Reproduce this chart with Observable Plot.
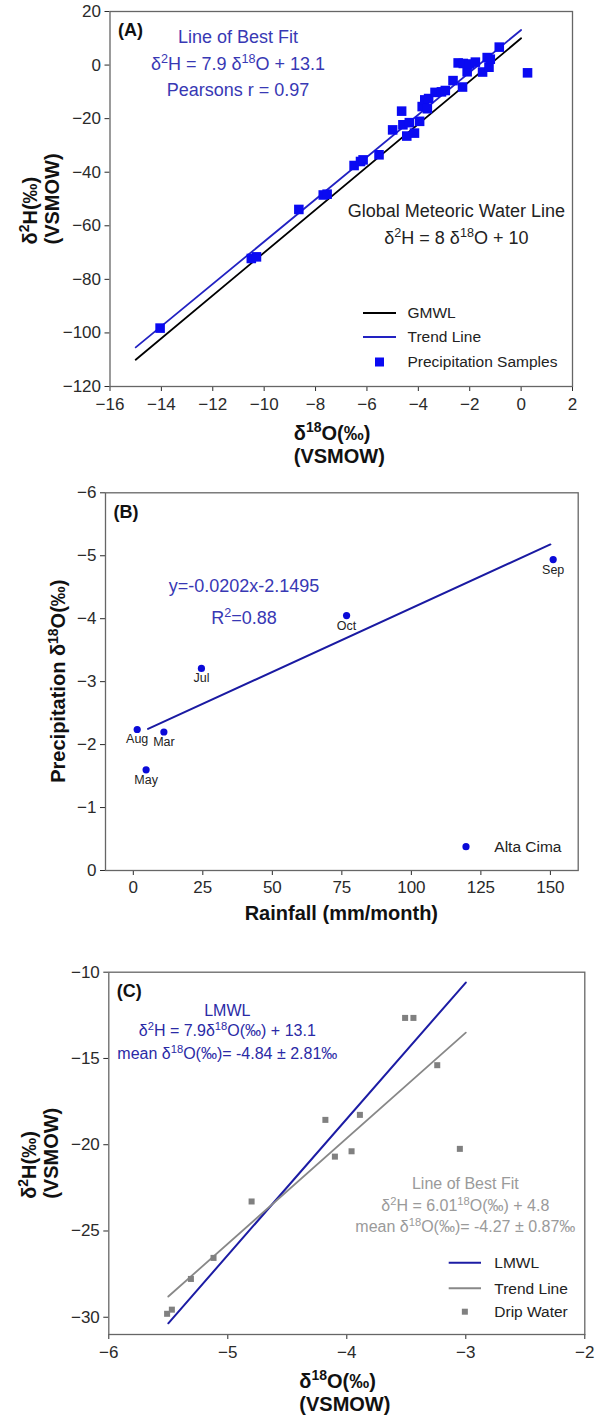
<!DOCTYPE html>
<html>
<head>
<meta charset="utf-8">
<script src="https://cdn.jsdelivr.net/npm/d3@7"></script>
<script src="https://cdn.jsdelivr.net/npm/@observablehq/plot@0.6"></script>
<style>
  html, body { margin: 0; padding: 0; background: #fff; }
  #wrap { position: relative; width: 606px; height: 1418px; background: #fff; }
  .panel { position: absolute; left: 0; }
</style>
</head>
<body>
<div id="wrap">
  <div class="panel" id="pA" style="top:0px"></div>
  <div class="panel" id="pB" style="top:470px"></div>
  <div class="panel" id="pC" style="top:940px"></div>
</div>
<script>
// ---------------- DATA ----------------
// Panel A: precipitation samples
const precipD18O = [-14.05, -10.5, -10.3, -8.65, -7.7, -7.55, -6.5, -6.25, -6.15, -5.53, -5.0, -4.65, -4.6, -4.45, -4.35, -4.15, -3.95, -3.85, -3.75, -3.65, -3.6, -3.35, -3.1, -2.95, -2.65, -2.45, -2.25, -2.28, -2.1, -2.0, -1.78, -1.5, -1.32, -1.25, -1.2, -0.85, 0.25];
const precipD2H  = [-98.2, -72.2, -71.6, -53.9, -48.5, -48.2, -37.5, -36.0, -35.4, -33.5, -24.2, -17.2, -22.3, -26.5, -21.5, -25.4, -21.0, -15.5, -13.0, -16.3, -12.5, -10.2, -10.0, -9.5, -5.8, 0.8, 0.6, -8.2, -2.5, 0.4, 1.1, -2.6, 2.8, -0.8, 2.2, 6.7, -2.9];
const gmwlX = [-15, 0];
const gmwlY = [-110, 10];
const trendAX = [-15, 0];
const trendAY = [-105.4, 13.1];
const ticksAX = [-16, -14, -12, -10, -8, -6, -4, -2, 0, 2];
const ticksAY = [-120, -100, -80, -60, -40, -20, 0, 20];

// Panel B: monthly rainfall vs precipitation d18O (Alta Cima)
const months    = ["Aug", "Mar", "May", "Jul", "Oct", "Sep"];
const rainfall  = [1.4, 11.0, 4.6, 24.5, 76.7, 151.0];
const monthD18O = [-2.24, -2.20, -1.60, -3.21, -4.05, -4.94];
const trendBX = [5.3, 150];
const trendBY = [-2.25, -5.18];
const ticksBX = [0, 25, 50, 75, 100, 125, 150];
const ticksBY = [0, -1, -2, -3, -4, -5, -6];

// Panel C: drip water
const dripD18O = [-5.51, -5.47, -5.31, -5.12, -4.80, -4.18, -4.10, -3.96, -3.89, -3.51, -3.44, -3.24, -3.05];
const dripD2H  = [-29.8, -29.56, -27.78, -26.56, -23.29, -18.56, -20.69, -20.38, -18.27, -12.65, -12.65, -15.39, -20.24];
const lmwlX = [-5.5, -3.0];
const lmwlY = [-30.35, -10.6];
const trendCX = [-5.5, -3.0];
const trendCY = [-28.8, -13.5];
const ticksCX = [-6, -5, -4, -3, -2];
const ticksCY = [-30, -25, -20, -15, -10];

// ---------------- HELPERS ----------------
const FONT = '"Liberation Sans", Arial, Helvetica, sans-serif';
const intFmt = d3.format("d");
const zip = (xs, ys, extra) => xs.map((x, i) => Object.assign({x, y: ys[i]}, extra ? extra(i) : {}));

function addRich(sel, str, size) {
  const parts = str.split(/(\^\{[^}]*\})/);
  let up = false;
  for (const p of parts) {
    if (!p) continue;
    const m = p.match(/^\^\{([^}]*)\}$/);
    if (m) {
      sel.append("tspan").attr("dy", -0.38 * size).attr("font-size", size * 0.7).text(m[1]);
      up = true;
    } else {
      const t = sel.append("tspan").text(p);
      if (up) { t.attr("dy", 0.38 * size); up = false; }
    }
  }
}

// items: {text, size, weight, fill, anchor, rotate, pos:(scales,dims)=>[x, yCenter]}
function richMark(items) {
  return (index, scales, values, dims) => {
    const g = d3.create("svg:g");
    for (const it of items) {
      const [px, pcy] = it.pos(scales, dims);
      let x = px, y = pcy + 0.35 * it.size;
      if (it.rotate) { x = px + 0.35 * it.size; y = pcy; }
      const t = g.append("text")
        .attr("x", x).attr("y", y)
        .attr("text-anchor", it.anchor || "middle")
        .attr("font-family", FONT)
        .attr("font-size", it.size)
        .attr("font-weight", it.weight || "normal")
        .attr("fill", it.fill || "#222")
        .style("white-space", "pre");
      if (it.rotate) t.attr("transform", `rotate(-90 ${x} ${y})`);
      addRich(t, it.text, it.size);
    }
    return g.node();
  };
}

const dataPos = (x, y) => (s) => [s.x(x), s.y(y)];
const frameBox = (d) => ({
  l: d.marginLeft, r: d.width - d.marginRight,
  t: d.marginTop, b: d.height - d.marginBottom
});
const panelTag = (label) => ({text: label, size: 18, weight: "bold", fill: "#111",
  pos: (s, d) => { const f = frameBox(d); return [f.l + 21, f.t + 19]; }});
const xLabels2 = (l1, l2) => [
  {text: l1, size: 20, weight: "bold", anchor: "start", fill: "#111",
   pos: (s, d) => { const f = frameBox(d); return [(f.l + f.r) / 2 - 47, f.b + 47]; }},
  {text: l2, size: 20, weight: "bold", anchor: "start", fill: "#111",
   pos: (s, d) => { const f = frameBox(d); return [(f.l + f.r) / 2 - 47, f.b + 70]; }}
];
const yLabels2 = (l1, l2) => [
  {text: l1, size: 20, weight: "bold", anchor: "start", rotate: true, fill: "#111",
   pos: (s, d) => { const f = frameBox(d); return [f.l - 79.5, (f.t + f.b) / 2 + 46]; }},
  {text: l2, size: 20, weight: "bold", anchor: "start", rotate: true, fill: "#111",
   pos: (s, d) => { const f = frameBox(d); return [f.l - 57.5, (f.t + f.b) / 2 + 46]; }}
];

// legend: rows [{type:"line"|"square"|"dot", color, label}], geometry relative to frame bottom-right
function legendMark(rows, geo) {
  return (index, scales, values, dims) => {
    const f = frameBox(dims);
    const g = d3.create("svg:g");
    rows.forEach((row, i) => {
      const cy = f.b - geo.rowsFromBottom[i];
      const x0 = f.r - geo.lineFrom, x1 = f.r - geo.lineTo, xm = (x0 + x1) / 2;
      if (row.type === "line") {
        g.append("line").attr("x1", x0).attr("x2", x1).attr("y1", cy).attr("y2", cy)
          .attr("stroke", row.color).attr("stroke-width", row.width || 2);
      } else if (row.type === "square") {
        g.append("rect").attr("x", xm - row.side / 2).attr("y", cy - row.side / 2)
          .attr("width", row.side).attr("height", row.side).attr("fill", row.color);
      } else {
        g.append("circle").attr("cx", xm).attr("cy", cy).attr("r", row.r).attr("fill", row.color);
      }
      g.append("text").attr("x", f.r - geo.textAt).attr("y", cy + 0.35 * geo.size)
        .attr("text-anchor", "start")
        .attr("font-family", FONT).attr("font-size", geo.size).attr("fill", "#222")
        .text(row.label);
    });
    return g.node();
  };
}

const baseStyle = {fontFamily: FONT, fontSize: "17px", color: "#2a2a2a", background: "white", overflow: "visible"};
const FRAME = "#666";

// ---------------- PANEL A ----------------
const A = Plot.plot({
  width: 606, height: 470,
  marginTop: 11, marginBottom: 84, marginLeft: 109.5, marginRight: 34,
  style: baseStyle,
  x: {domain: [-16, 2], ticks: ticksAX, tickFormat: intFmt, tickSize: 5, tickPadding: 6, label: null},
  y: {domain: [-120, 20], ticks: ticksAY, tickFormat: intFmt, tickSize: 5, tickPadding: 4, label: null},
  marks: [
    Plot.line(zip(gmwlX, gmwlY), {x: "x", y: "y", stroke: "#000", strokeWidth: 1.8}),
    Plot.line(zip(trendAX, trendAY), {x: "x", y: "y", stroke: "#2222c2", strokeWidth: 1.8}),
    Plot.dot(zip(precipD18O, precipD2H), {x: "x", y: "y", symbol: "square", r: 5.4, fill: "#0a0af2", stroke: "none"}),
    Plot.frame({stroke: FRAME, strokeWidth: 1.3}),
    richMark([
      panelTag("(A)"),
      {text: "Line of Best Fit", size: 18, fill: "#3838b4", pos: dataPos(-11.0, 10.4)},
      {text: "δ^{2}H = 7.9 δ^{18}O + 13.1", size: 18, fill: "#3838b4", pos: dataPos(-11.0, 0.2)},
      {text: "Pearsons r = 0.97", size: 18, fill: "#3838b4", pos: dataPos(-11.0, -9.5)},
      {text: "Global Meteoric Water Line", size: 18, fill: "#222", pos: dataPos(-2.5, -54.5)},
      {text: "δ^{2}H = 8 δ^{18}O + 10", size: 18, fill: "#222", pos: dataPos(-2.5, -64.5)},
      ...xLabels2("δ^{18}O(‰)", "(VSMOW)"),
      ...yLabels2("δ^{2}H(‰)", "(VSMOW)")
    ]),
    legendMark([
      {type: "line", color: "#000", label: "GMWL"},
      {type: "line", color: "#2222c2", label: "Trend Line"},
      {type: "square", color: "#0a0af2", side: 9, label: "Precipitation Samples"}
    ], {rowsFromBottom: [73, 49, 24], lineFrom: 209, lineTo: 176, textAt: 164.5, size: 15.5})
  ]
});
document.getElementById("pA").append(A);

// ---------------- PANEL B ----------------
const B = Plot.plot({
  width: 606, height: 470,
  marginTop: 22.3, marginBottom: 70, marginLeft: 105, marginRight: 28.3,
  style: baseStyle,
  x: {domain: [-10, 160], ticks: ticksBX, tickFormat: intFmt, tickSize: 5, tickPadding: 5, label: null},
  y: {domain: [0, -6], ticks: ticksBY, tickFormat: intFmt, tickSize: 5, tickPadding: 4, label: null},
  marks: [
    Plot.line(zip(trendBX, trendBY), {x: "x", y: "y", stroke: "#1a1aa2", strokeWidth: 2}),
    Plot.dot(zip(rainfall, monthD18O), {x: "x", y: "y", r: 3.6, fill: "#0a0ad8", stroke: "none"}),
    Plot.text(zip(rainfall, monthD18O, i => ({m: months[i]})), {x: "x", y: "y", text: "m", dy: 10, fontSize: 12.5, fill: "#222"}),
    Plot.frame({stroke: FRAME, strokeWidth: 1.3}),
    richMark([
      panelTag("(B)"),
      {text: "y=-0.0202x-2.1495", size: 18, fill: "#3838b4", pos: dataPos(40, -4.52)},
      {text: "R^{2}=0.88", size: 18, fill: "#3838b4", pos: dataPos(40, -4.01)},
      {text: "Rainfall (mm/month)", size: 20, weight: "bold", fill: "#111",
       pos: (s, d) => { const f = frameBox(d); return [(f.l + f.r) / 2, f.b + 43]; }},
      {text: "Precipitation δ^{18}O(‰)", size: 20, weight: "bold", rotate: true, fill: "#111",
       pos: (s, d) => { const f = frameBox(d); return [f.l - 46.5, (f.t + f.b) / 2]; }}
    ]),
    legendMark([
      {type: "dot", color: "#0a0ad8", r: 3.6, label: "Alta Cima"}
    ], {rowsFromBottom: [23.3], lineFrom: 111.7, lineTo: 111.7, textAt: 83.4, size: 15.5})
  ]
});
document.getElementById("pB").append(B);

// ---------------- PANEL C ----------------
const C = Plot.plot({
  width: 606, height: 478,
  marginTop: 31.7, marginBottom: 84, marginLeft: 108.3, marginRight: 21.7,
  style: baseStyle,
  x: {domain: [-6, -2], ticks: ticksCX, tickFormat: intFmt, tickSize: 5, tickPadding: 6, label: null},
  y: {domain: [-31, -10], ticks: ticksCY, tickFormat: intFmt, tickSize: 5, tickPadding: 4, label: null},
  marks: [
    Plot.line(zip(lmwlX, lmwlY), {x: "x", y: "y", stroke: "#1c1ca4", strokeWidth: 2}),
    Plot.line(zip(trendCX, trendCY), {x: "x", y: "y", stroke: "#888888", strokeWidth: 1.8}),
    Plot.dot(zip(dripD18O, dripD2H), {x: "x", y: "y", symbol: "square", r: 3.4, fill: "#808080", stroke: "none"}),
    Plot.frame({stroke: FRAME, strokeWidth: 1.3}),
    richMark([
      panelTag("(C)"),
      {text: "LMWL", size: 16, fill: "#2a2aa6", pos: dataPos(-5.0, -12.26)},
      {text: "δ^{2}H = 7.9δ^{18}O(‰) + 13.1", size: 16, fill: "#2a2aa6", pos: dataPos(-5.0, -13.42)},
      {text: "mean δ^{18}O(‰)= -4.84 ± 2.81‰", size: 16, fill: "#2a2aa6", pos: dataPos(-5.0, -14.73)},
      {text: "Line of Best Fit", size: 16, fill: "#9a9a9a", pos: dataPos(-3.0, -22.27)},
      {text: "δ^{2}H = 6.01^{18}O(‰) + 4.8", size: 16, fill: "#9a9a9a", pos: dataPos(-3.0, -23.53)},
      {text: "mean δ^{18}O(‰)= -4.27 ± 0.87‰", size: 16, fill: "#9a9a9a", pos: dataPos(-3.0, -24.74)},
      ...xLabels2("δ^{18}O(‰)", "(VSMOW)"),
      ...yLabels2("δ^{2}H(‰)", "(VSMOW)")
    ]),
    legendMark([
      {type: "line", color: "#1c1ca4", label: "LMWL"},
      {type: "line", color: "#888888", label: "Trend Line"},
      {type: "square", color: "#808080", side: 6, label: "Drip Water"}
    ], {rowsFromBottom: [71.3, 45.7, 22.3], lineFrom: 135.6, lineTo: 103.3, textAt: 90, size: 15.5})
  ]
});
document.getElementById("pC").append(C);
</script>
</body>
</html>
